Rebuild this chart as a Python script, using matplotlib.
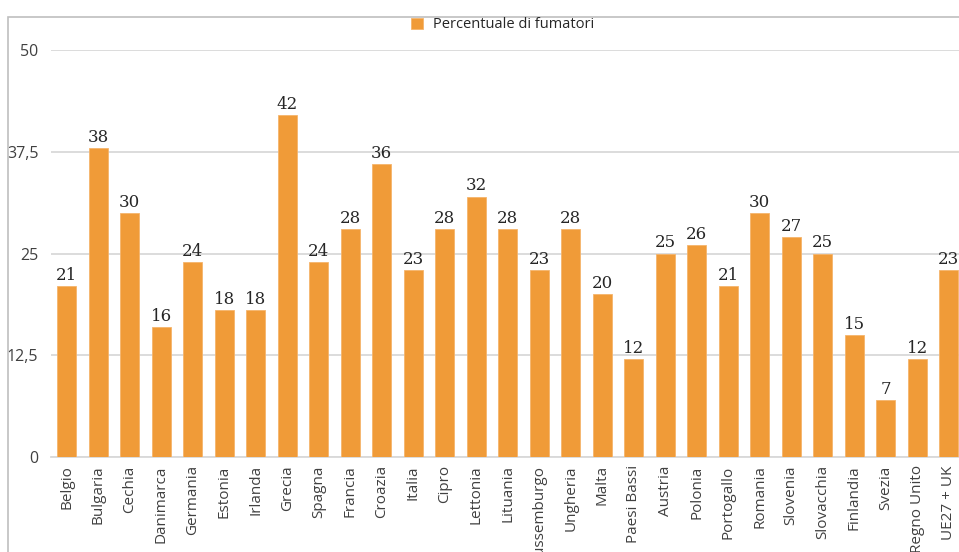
import matplotlib.pyplot as plt
from matplotlib.patches import Rectangle

# data
paesi = ['Belgio', 'Bulgaria', 'Cechia', 'Danimarca', 'Germania', 'Estonia',
         'Irlanda', 'Grecia', 'Spagna', 'Francia', 'Croazia', 'Italia',
         'Cipro', 'Lettonia', 'Lituania', 'Lussemburgo', 'Ungheria', 'Malta',
         'Paesi Bassi', 'Austria', 'Polonia', 'Portogallo', 'Romania',
         'Slovenia', 'Slovacchia', 'Finlandia', 'Svezia', 'Regno Unito',
         'UE27 + UK']
fumatori = [21, 38, 30, 16, 24, 18, 18, 42, 24, 28, 36, 23, 28, 32, 28, 23,
            28, 20, 12, 25, 26, 21, 30, 27, 25, 15, 7, 12, 23]
yticks = [0, 12.5, 25, 37.5, 50]
ytick_labels = ['0', '12,5', '25', '37,5', '50']

W, H = 959, 552
fig = plt.figure(figsize=(W / 100, H / 100), dpi=100)

# outer frame (cut off on the right and bottom like in the original)
fig.patches.append(Rectangle((8 / W, -0.1), 2, (H - 17) / H + 0.1,
                             transform=fig.transFigure, fill=False,
                             edgecolor='#bfbfbf', linewidth=1.2))

n = len(paesi)
step = 31.5
left_px = 51
ax = fig.add_axes([left_px / W, (H - 457) / H, n * step / W, 407 / H])

x = range(n)
ax.bar(x, fumatori, width=0.6, color='#f09b38', edgecolor='#f5b56c',
       linewidth=0.6, label='Percentuale di fumatori', zorder=3)

for i, v in enumerate(fumatori):
    ax.text(i, v + 0.25, str(v), ha='center', va='bottom', fontsize=12,
            family='DejaVu Serif', color='#262626')

ax.set_xlim(-0.5, n - 0.5)
ax.set_ylim(0, 50)
ax.set_yticks(yticks)
ax.set_yticklabels(ytick_labels, fontsize=11.5, color='#404040', family='Open Sans')
ax.set_xticks(list(x))
ax.set_xticklabels(paesi, rotation=90, fontsize=11, color='#404040',
                   family='Open Sans')
ax.tick_params(length=0, pad=6)
ax.tick_params(axis='y', pad=9)

ax.grid(axis='y', color='#d9d9d9', linewidth=1.3, zorder=0)
for s in ['top', 'right', 'left']:
    ax.spines[s].set_visible(False)
ax.spines['bottom'].set_color('#d9d9d9')
ax.spines['bottom'].set_linewidth(1.3)

leg = fig.legend(loc='center', bbox_to_anchor=(503 / W, 1 - 25 / H),
                 frameon=False, prop={'family': 'Open Sans', 'size': 10.5},
                 handlelength=0.8, handleheight=0.8, handletextpad=0.7)
for t in leg.get_texts():
    t.set_color('#262626')

fig.savefig('out.png', dpi=100)
